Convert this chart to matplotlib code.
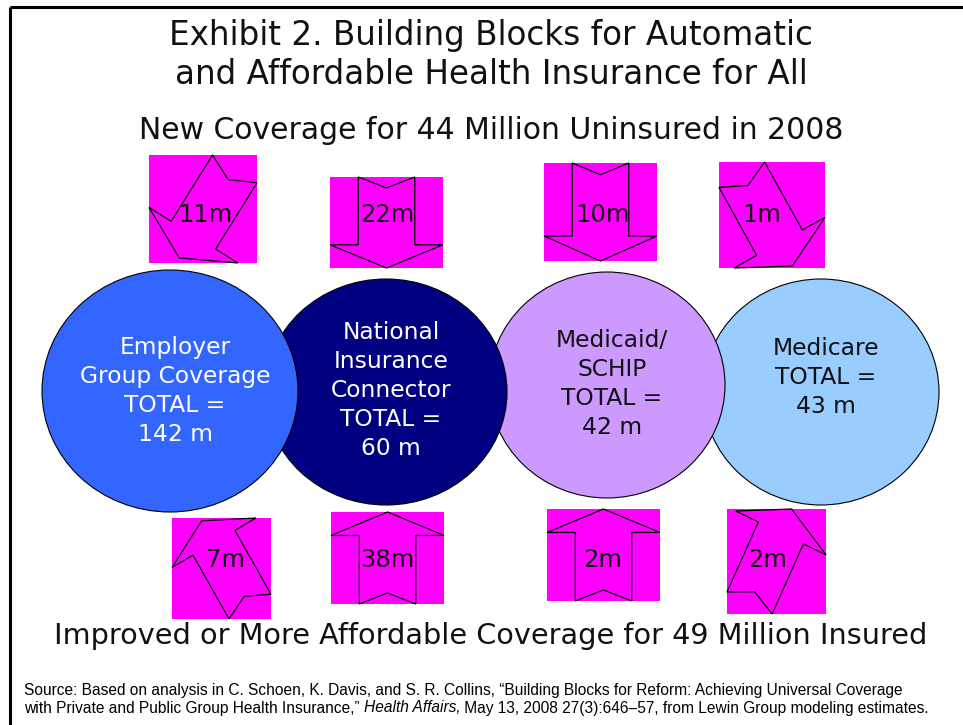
import numpy as np
import matplotlib
matplotlib.use("Agg")
import matplotlib.pyplot as plt
from matplotlib.patches import Ellipse, Polygon, Rectangle

# data
programs = ["Employer\nGroup Coverage", "National\nInsurance\nConnector", "Medicaid/\nSCHIP", "Medicare"]
totals = [142, 60, 42, 43]
new_coverage = [11, 22, 10, 1]
improved_coverage = [7, 38, 2, 2]

title = "Exhibit 2. Building Blocks for Automatic\nand Affordable Health Insurance for All"
top_caption = "New Coverage for 44 Million Uninsured in 2008"
bottom_caption = "Improved or More Affordable Coverage for 49 Million Insured"
source_parts = [
    ("Source: Based on analysis in C. Schoen, K. Davis, and S. R. Collins, \u201cBuilding Blocks for Reform: Achieving Universal Coverage", "normal"),
    ("\n", None),
    ("with Private and Public Group Health Insurance,\u201d ", "normal"),
    ("Health Affairs,", "italic"),
    (" May 13, 2008 27(3):646\u201357, from Lewin Group modeling estimates.", "normal"),
]

# layout (pixel units, y pointing down)
W, H = 963, 725
circle_centers = [(170, 391), (386, 392), (607, 385), (821, 392)]
circle_sizes = [(256, 242), (242, 226), (236, 226), (236, 226)]
circle_colors = ["#3366FF", "#000080", "#CC99FF", "#99CCFF"]
text_colors = ["white", "white", "#111111", "#111111"]
label_top = [347, 332, 340, 348]

top_boxes = [(149, 155, 257, 263), (330, 177, 443, 268), (544, 163, 657, 261), (719, 162, 825, 268)]
top_angles = [148, 180, 180, 209]
bottom_boxes = [(172, 518, 271, 619), (331, 512, 444, 604), (547, 509, 660, 601), (727, 509, 826, 614)]
bottom_angles = [30, 0, 0, -25]
top_label_x = [205, 387, 602, 762]
bottom_label_x = [225, 387, 603, 768]

MAGENTA = "#FF00FF"
FONT = "DejaVu Sans"
CX = 491


def arrow_polygon(angle, box):
    """Block arrow (notched tail) rotated by angle and stretched into box."""
    pts = np.array([(-0.25, -0.5), (0, -0.38), (0.25, -0.5), (0.25, 0.245),
                    (0.5, 0.245), (0, 0.5), (-0.5, 0.245), (-0.25, 0.245)])
    a = np.radians(angle)
    rot = np.array([[np.cos(a), -np.sin(a)], [np.sin(a), np.cos(a)]])
    pts = pts @ rot.T
    mn, mx = pts.min(axis=0), pts.max(axis=0)
    norm = (pts - mn) / (mx - mn)
    x0, y0, x1, y1 = box
    xs = x0 + norm[:, 0] * (x1 - x0)
    ys = y0 + (1 - norm[:, 1]) * (y1 - y0)
    return np.column_stack([xs, ys])


fig = plt.figure(figsize=(W / 100, H / 100), dpi=100)
ax = fig.add_axes([0, 0, 1, 1])
ax.set_xlim(0, W)
ax.set_ylim(H, 0)
ax.axis("off")

# slide frame (top and left edges only visible)
ax.plot([10, W], [7, 7], color="black", lw=2.2, solid_capstyle="butt")
ax.plot([10, 10], [7, H], color="black", lw=2.2, solid_capstyle="butt")

ax.text(CX, 55, title, ha="center", va="center", fontsize=23.5,
        family=FONT, color="#111111", linespacing=1.25)
ax.text(CX, 130, top_caption, ha="center", va="center", fontsize=21.5,
        family=FONT, color="#111111")
ax.text(CX, 636, bottom_caption, ha="center", va="center", fontsize=20.7,
        family=FONT, color="#111111")

# circles: left ones lie on top
for i, (name, total) in enumerate(zip(programs, totals)):
    cx, cy = circle_centers[i]
    w, h = circle_sizes[i]
    ax.add_patch(Ellipse((cx, cy), w, h, facecolor=circle_colors[i],
                         edgecolor="black", lw=0.8, zorder=10 - i))
    lines = name.split("\n") + ["TOTAL =", f"{total} m"]
    for j, line in enumerate(lines):
        ax.text(cx + 5, label_top[i] + j * 29, line, ha="center", va="center",
                fontsize=16.8, family=FONT, color=text_colors[i], zorder=20)

# arrows
for vals, boxes, angles, lx, ly in [(new_coverage, top_boxes, top_angles, top_label_x, 215),
                                    (improved_coverage, bottom_boxes, bottom_angles, bottom_label_x, 560)]:
    for v, box, ang, x in zip(vals, boxes, angles, lx):
        x0, y0, x1, y1 = box
        ax.add_patch(Rectangle((x0, y0), x1 - x0, y1 - y0, facecolor=MAGENTA,
                               edgecolor="none", zorder=21))
        ax.add_patch(Polygon(arrow_polygon(ang, box), closed=True, facecolor=MAGENTA,
                             edgecolor="black", lw=0.9, zorder=22))
        ax.text(x, ly, f"{v}m", ha="center", va="center", fontsize=17.5,
                family=FONT, color="#111111", zorder=23)

# source note with italic journal name
fig.canvas.draw()
renderer = fig.canvas.get_renderer()
x, y = 24, 690
for txt, style in source_parts:
    if style is None:
        x, y = 24, y + 18
        continue
    t = ax.text(x, y, txt, ha="left", va="center", fontsize=11.2,
                family="Liberation Sans", style=style, color="black")
    bb = t.get_window_extent(renderer=renderer)
    x += bb.width

fig.savefig("out.png", dpi=100)
